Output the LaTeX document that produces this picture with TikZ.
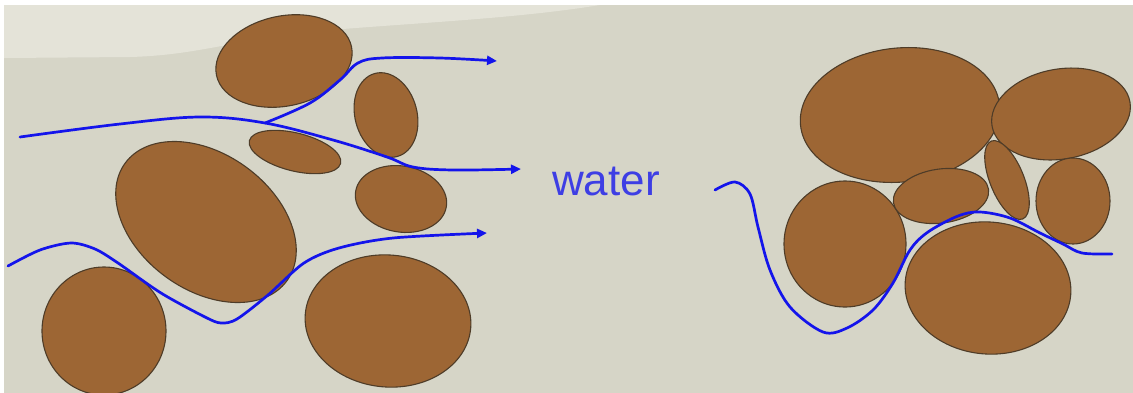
\documentclass[tikz,border=0pt]{standalone}
\usepackage{fontspec}
\setmainfont{Liberation Sans}
\usetikzlibrary{arrows.meta}
\definecolor{paper}{RGB}{214,213,199}
\definecolor{paperlight}{RGB}{228,227,216}
\definecolor{soil}{RGB}{157,102,52}
\definecolor{soilrim}{RGB}{78,60,40}
\definecolor{flow}{RGB}{20,20,235}
\definecolor{label}{RGB}{62,62,228}
\tikzset{
  grain/.style={fill=soil, draw=soilrim, line width=1.1pt},
  stream/.style={draw=flow, line width=2.7pt, line cap=round, line join=round},
  streamtip/.style={stream, -{Triangle[length=10pt,width=9pt]}},
}
% grain{cx}{cy}{rx}{ry}{angle}
\newcommand{\grainat}[5]{\draw[grain, shift={(#1,#2)}, rotate=#5] (0,0) ellipse [x radius=#3, y radius=#4];}
\begin{document}
\begin{tikzpicture}[x=1pt, y=-1pt]
  % paper background
  \useasboundingbox (0,0) rectangle (1133,392);
  \fill[white] (-5,-5) rectangle (1140,400);
  \fill[paper] (4,5) rectangle (1140,400);
  \fill[paperlight] (4,5) -- (4,58) -- (130,57) .. controls (200,55) and (230,40) .. (330,30)
        .. controls (430,22) and (520,18) .. (600,5) -- cycle;

  % loosely packed grains
  \grainat{284}{61}{69}{45}{12}
  \grainat{386}{115}{31}{43}{15}
  \grainat{295}{152}{47}{19}{-14}
  \grainat{206}{222}{100}{68}{-36}
  \grainat{401}{199}{46}{33}{-10}
  \grainat{104}{331}{62}{64}{0}
  \grainat{388}{321}{83}{66}{-5}

  % densely packed grains
  \grainat{900}{115}{100}{67}{6}
  \grainat{1061}{114}{70}{45}{10}
  \grainat{845}{244}{61}{63}{0}
  \grainat{941}{196}{48}{27}{8}
  \grainat{1007}{180}{17}{42}{22}
  \grainat{1073}{201}{37}{43}{0}
  \grainat{988}{288}{83}{66}{-5}

  % flow paths through the open packing
  \coordinate (aStart) at (20,137);
  \coordinate (split) at (265,123);
  \coordinate (aTop) at (497,61);
  \coordinate (aMid) at (521,169);
  \coordinate (bStart) at (8,266);
  \coordinate (bEnd) at (487,233);
  \draw[streamtip] plot[smooth, tension=0.6] coordinates
    {(aStart) (120,124) (200,117) (split) (333,140) (387,157) (413,167) (453,170) (aMid)};
  \draw[streamtip] plot[smooth, tension=0.6] coordinates
    {(split) (310,103) (340,80) (358,63) (382,58) (440,58) (aTop)};
  \draw[streamtip] plot[smooth, tension=0.5] coordinates
    {(bStart) (40,250) (71,243) (95,249) (118,263) (161,293) (205,317) (221,323) (237,319)
     (268,295) (304,263) (339,248) (393,238) (bEnd)};

  % tortuous path through the dense packing
  \coordinate (cStart) at (715,190);
  \coordinate (cEnd) at (1112,254);
  \draw[stream] plot[smooth, tension=0.55] coordinates
    {(cStart) (735,182) (750,194) (758,227) (770,270) (790,307) (823,332) (847,328) (873,310)
     (893,283) (910,250) (928,232) (958,216) (980,212) (1010,218) (1040,233) (1063,244)
     (1082,253) (cEnd)};

  \node[text=label, font=\fontsize{44}{50}\selectfont, anchor=base, inner sep=0pt] (water) at (606,195) {water};
\end{tikzpicture}
\end{document}
